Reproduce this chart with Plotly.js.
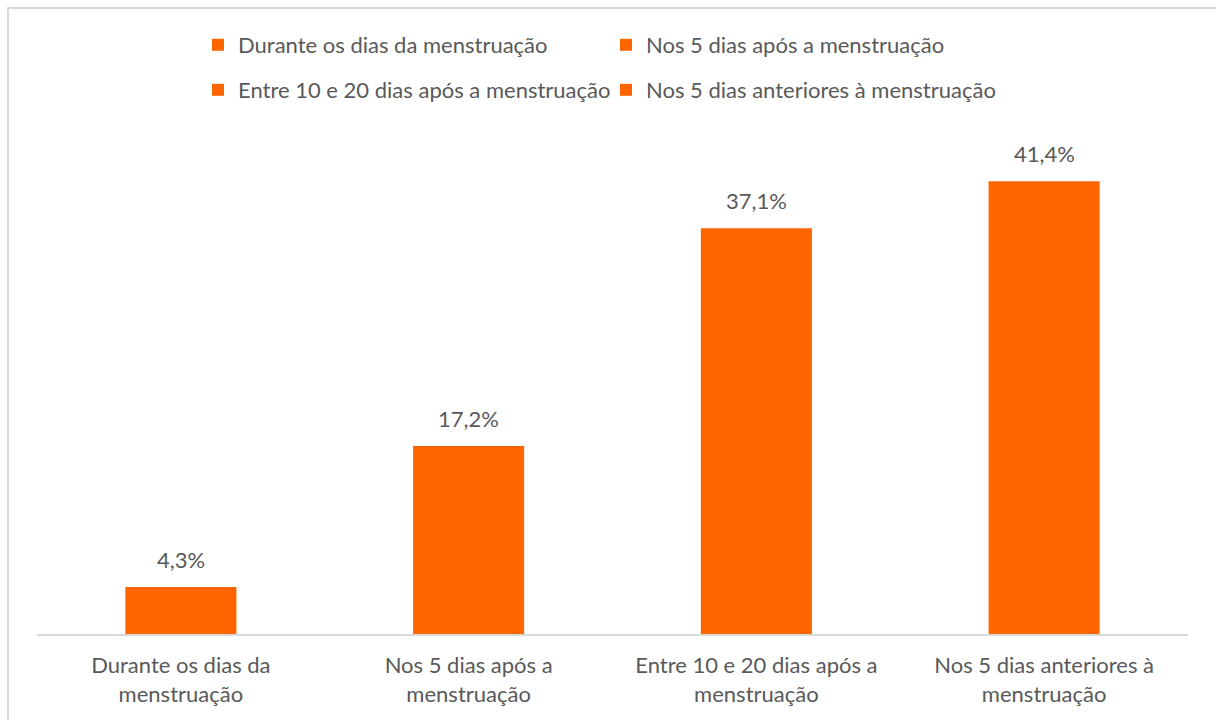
<!DOCTYPE html>
<html>
<head>
<meta charset="utf-8">
<script src="https://cdn.plot.ly/plotly-3.0.1.min.js"></script>
<style>
  html, body { margin: 0; padding: 0; background: #fff; overflow: hidden; }
  #wrap { position: relative; width: 1216px; height: 720px; }
  #chart { width: 1216px; height: 720px; }
  #frame { position: absolute; left: 7px; top: 7px; width: 1216px; height: 720px;
           border-left: 2px solid #d9d9d9; border-top: 2px solid #d9d9d9; pointer-events: none; }
</style>
</head>
<body>
<div id="wrap">
  <div id="chart"></div>
  <div id="frame"></div>
</div>
<script>
const categories = [
  "Durante os dias da menstruação",
  "Nos 5 dias após a menstruação",
  "Entre 10 e 20 dias após a menstruação",
  "Nos 5 dias anteriores à menstruação"
];
const tickLabels = [
  "Durante os dias da<br>menstruação",
  "Nos 5 dias após a<br>menstruação",
  "Entre 10 e 20 dias após a<br>menstruação",
  "Nos 5 dias anteriores à<br>menstruação"
];
const values = [4.3, 17.2, 37.1, 41.4];
const valueLabels = ["4,3%", "17,2%", "37,1%", "41,4%"];

const ORANGE = "#FF6600";
const GREY = "#595959";
const FONT = "Lato, 'Open Sans', sans-serif";
const FS = 22;

const traces = categories.map((c, i) => ({
  type: "bar",
  name: c,
  x: [tickLabels[i]],
  y: [values[i]],
  width: 0.386,
  marker: { color: ORANGE },
  hoverinfo: "skip",
  legend: i < 2 ? "legend" : "legend2",
  showlegend: true
}));

const annotations = values.map((v, i) => ({
  x: tickLabels[i], y: v, xref: "x", yref: "y",
  text: valueLabels[i], showarrow: false,
  yanchor: "bottom", yshift: 12,
  font: { family: FONT, size: FS, color: GREY }
}));

const legendCommon = {
  orientation: "h",
  xref: "container", yref: "container",
  xanchor: "left", yanchor: "middle",
  x: 198 / 1216,
  entrywidth: 363, entrywidthmode: "pixels",
  font: { family: FONT, size: FS, color: GREY },
  bgcolor: "rgba(0,0,0,0)",
  itemclick: false, itemdoubleclick: false,
  traceorder: "normal"
};

const layout = {
  width: 1216, height: 720,
  paper_bgcolor: "#ffffff", plot_bgcolor: "#ffffff",
  margin: { l: 37, r: 28, t: 142, b: 86 },
  barmode: "overlay",
  showlegend: true,
  legend: Object.assign({}, legendCommon, { y: 1 - 45 / 720 }),
  legend2: Object.assign({}, legendCommon, { y: 1 - 90 / 720 }),
  xaxis: {
    type: "category",
    categoryorder: "array", categoryarray: tickLabels,
    showline: true, linecolor: "#d9d9d9", linewidth: 2,
    showgrid: false, zeroline: false, ticks: "",
    ticklabelstandoff: 11,
    tickfont: { family: FONT, size: FS, color: GREY },
    fixedrange: true
  },
  yaxis: {
    range: [0, 45], visible: false, showgrid: false, zeroline: false, fixedrange: true
  },
  annotations: annotations,
  font: { family: FONT, color: GREY }
};

Plotly.newPlot("chart", traces, layout, { displayModeBar: false, staticPlot: true });
</script>
</body>
</html>
